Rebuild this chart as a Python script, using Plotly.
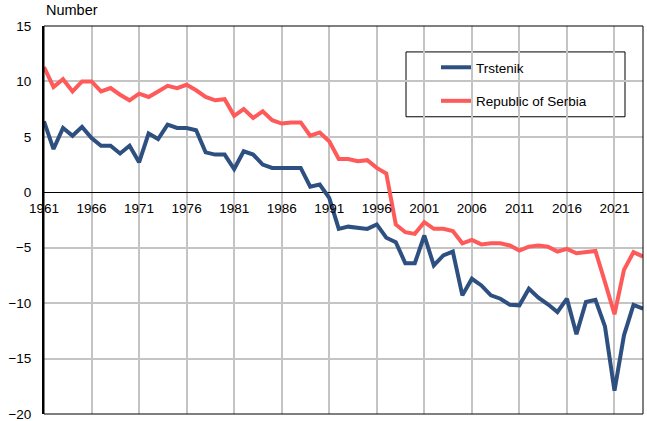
import plotly.graph_objects as go

years = list(range(1961, 2025))

trstenik = [6.4, 3.9, 5.8, 5.1, 5.9, 4.9, 4.2, 4.2, 3.5, 4.2,
            2.7, 5.3, 4.8, 6.1, 5.8, 5.8, 5.6, 3.6, 3.4, 3.4,
            2.1, 3.7, 3.4, 2.5, 2.2, 2.2, 2.2, 2.2, 0.5, 0.7,
            -0.5, -3.3, -3.1, -3.2, -3.3, -2.9, -4.1, -4.5, -6.4, -6.4,
            -3.9, -6.6, -5.7, -5.35, -9.3, -7.8, -8.4, -9.3, -9.6, -10.15,
            -10.2, -8.7, -9.5, -10.1, -10.8, -9.6, -12.8, -9.9, -9.7, -12.1,
            -17.9, -12.9, -10.15, -10.5]

serbia = [11.3, 9.5, 10.2, 9.1, 10.0, 10.0, 9.1, 9.4, 8.8, 8.3,
          8.9, 8.6, 9.1, 9.6, 9.4, 9.7, 9.2, 8.6, 8.3, 8.4,
          6.9, 7.5, 6.7, 7.3, 6.5, 6.2, 6.3, 6.3, 5.1, 5.4,
          4.6, 3.0, 3.0, 2.8, 2.9, 2.2, 1.7, -2.9, -3.6, -3.75,
          -2.7, -3.3, -3.3, -3.5, -4.6, -4.3, -4.7, -4.6, -4.6, -4.8,
          -5.25, -4.9, -4.8, -4.9, -5.35, -5.1, -5.5, -5.4, -5.3, -8.1,
          -11.0, -7.0, -5.4, -5.8]

series_names = ["Trstenik", "Republic of Serbia"]
colors = ["#2e5080", "#ff5a5a"]

y_min, y_max = -20, 15
x_min, x_max = 1961, 2024

fig = go.Figure()
for i, (name, vals) in enumerate(zip(series_names, [trstenik, serbia])):
    fig.add_trace(go.Scatter(
        x=years, y=vals, mode="lines", name=name,
        line=dict(color=colors[i], width=4),
        legendgroup=f"g{i}",
    ))

zero_pos = (0 - y_min) / (y_max - y_min)

fig.update_layout(
    width=647, height=421,
    margin=dict(l=44, r=4, t=26, b=7, autoexpand=False),
    paper_bgcolor="white", plot_bgcolor="white",
    font=dict(family="Liberation Sans, Arial, sans-serif", size=13.5, color="black"),
    showlegend=True,
    legend=dict(
        x=(436 - 44) / 599, y=0.933, xanchor="left", yanchor="top",
        bgcolor="rgba(0,0,0,0)", borderwidth=0,
        tracegroupgap=13, font=dict(size=13.5),
    ),
    xaxis=dict(
        range=[x_min, x_max], tick0=1961, dtick=5, automargin=False,
        showgrid=True, gridcolor="#c4c4c4", gridwidth=1.5,
        showline=False, zeroline=False,
        anchor="free", position=zero_pos,
        ticks="outside", ticklen=4, tickcolor="rgba(0,0,0,0)",
    ),
    yaxis=dict(
        range=[y_min, y_max], dtick=5, automargin=False,
        showgrid=True, gridcolor="#c4c4c4", gridwidth=1.5,
        zeroline=True, zerolinecolor="black", zerolinewidth=1.2,
        showline=True, linecolor="black", linewidth=2,
        ticks="outside", ticklen=8, tickcolor="rgba(0,0,0,0)",
        ticklabeloverflow="allow",
    ),
    shapes=[
        dict(type="rect", xref="paper", yref="paper", x0=0, x1=1, y0=0, y1=1,
             line=dict(color="black", width=1), layer="above"),
        dict(type="rect", xref="paper", yref="paper",
             x0=(406 - 44) / 599, x1=(625 - 44) / 599,
             y0=(415 - 117) / 389, y1=(415 - 52) / 389,
             line=dict(color="black", width=1), fillcolor="white", layer="below"),
    ],
    annotations=[
        dict(text="Number", xref="paper", yref="paper", x=0, y=1, xanchor="left",
             yanchor="middle", yshift=16, showarrow=False, font=dict(size=14.5)),
    ],
)

fig.write_html("out.html", config={"displayModeBar": False},
               post_script="document.body.style.margin='0';")
